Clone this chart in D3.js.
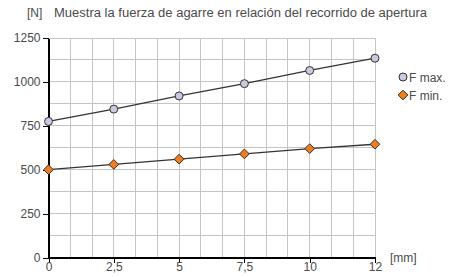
<!DOCTYPE html>
<html lang="es">
<head>
    <meta charset="UTF-8">
    <title>Fuerza de agarre</title>
    <script src="https://d3js.org/d3.v7.min.js" charset="utf-8"></script>
    <style>
        body { margin: 0; background: #fff; }
        text { font-family: "Liberation Sans", Arial, sans-serif; fill: #4a4a4a; }
        .axis path, .axis line { stroke: #000; shape-rendering: crispEdges; }
        .axis text { font-size: 12px; fill: #4a4a4a; }
        .grid line { stroke: #c4c4c4; stroke-width: 1; shape-rendering: crispEdges; }
    </style>
</head>
<body>
<script>
    // datos
    let categories = ['0', '2,5', '5', '7,5', '10', '12'];
    let fMax = [775, 845, 920, 990, 1065, 1135];
    let fMin = [500, 530, 560, 590, 620, 645];
    let yTicks = [0, 250, 500, 750, 1000, 1250];

    var svg = d3.select('body').append('svg').attr('width', 455).attr('height', 277);

    let mLeft = 48.5, mRight = 375, mTop = 38, mBottom = 257.5;
    // escala por índice: cada tramo tiene 3 divisiones de la rejilla
    let x = d3.scaleLinear().domain([0, categories.length - 1]).range([mLeft, mRight]);
    let y = d3.scaleLinear().domain([0, 1250]).range([mBottom, mTop]);

    // rejilla
    let grid = svg.append('g').attr('class', 'grid');
    grid.selectAll('line.v')
        .data(d3.range(1, (categories.length - 1) * 3 + 1).map(d => d / 3))
        .enter().append('line')
        .attr('x1', d => x(d)).attr('x2', d => x(d))
        .attr('y1', y(1250)).attr('y2', y(0));
    grid.selectAll('line.h')
        .data(d3.range(1, 11).map(d => d * 125))
        .enter().append('line')
        .attr('x1', x(0)).attr('x2', x(5))
        .attr('y1', d => y(d)).attr('y2', d => y(d));

    // ejes
    let xAxis = d3.axisBottom(x).tickValues(d3.range(categories.length))
        .tickFormat(i => categories[i]).tickSize(5).tickSizeOuter(0);
    svg.append('g').attr('class', 'axis')
        .attr('transform', 'translate(0,' + mBottom + ')')
        .call(xAxis)
        .call(g => g.select('.domain').attr('stroke-width', 1.6))
        .call(g => g.selectAll('.tick text').attr('y', 5).attr('dy', '0.71em'));

    let yAxis = d3.axisLeft(y).tickValues(yTicks).tickFormat(d3.format('d'))
        .tickSize(6).tickSizeOuter(0);
    svg.append('g').attr('class', 'axis')
        .attr('transform', 'translate(' + mLeft + ',0)')
        .call(yAxis)
        .call(g => g.select('.domain').attr('stroke-width', 1.6))
        .call(g => g.selectAll('.tick text').attr('x', -8));

    // líneas
    let line = d3.line().x((d, i) => x(i)).y(d => y(d));
    [fMax, fMin].forEach(s => {
        svg.append('path').datum(s)
            .attr('d', line)
            .attr('fill', 'none')
            .attr('stroke', '#333')
            .attr('stroke-width', 1.3);
    });

    // marcadores
    svg.selectAll('circle.max').data(fMax).enter().append('circle')
        .attr('cx', (d, i) => x(i)).attr('cy', d => y(d)).attr('r', 4)
        .attr('fill', '#c8cbe0').attr('stroke', '#333').attr('stroke-width', 1);
    let diamond = d3.symbol().type(d3.symbolDiamond2).size(60);
    svg.selectAll('path.min').data(fMin).enter().append('path')
        .attr('d', diamond)
        .attr('transform', (d, i) => 'translate(' + x(i) + ',' + y(d) + ')')
        .attr('fill', '#f07c1c').attr('stroke', '#333').attr('stroke-width', 1);

    // textos
    svg.append('text').attr('x', 27).attr('y', 17).attr('font-size', 12)
        .text('[N]');
    svg.append('text').attr('x', 54).attr('y', 17).attr('font-size', 12)
        .attr('textLength', 373).attr('lengthAdjust', 'spacingAndGlyphs')
        .text('Muestra la fuerza de agarre en relación del recorrido de apertura');
    svg.append('text').attr('x', 390).attr('y', 262).attr('font-size', 12).text('[mm]');

    // leyenda
    svg.append('circle').attr('cx', 403).attr('cy', 77).attr('r', 4)
        .attr('fill', '#c8cbe0').attr('stroke', '#333');
    svg.append('text').attr('x', 409).attr('y', 81.5).attr('font-size', 12).text('F max.');
    svg.append('path').attr('d', diamond)
        .attr('transform', 'translate(403,95)')
        .attr('fill', '#f07c1c').attr('stroke', '#333');
    svg.append('text').attr('x', 409).attr('y', 99.5).attr('font-size', 12).text('F min.');
</script>
</body>
</html>
